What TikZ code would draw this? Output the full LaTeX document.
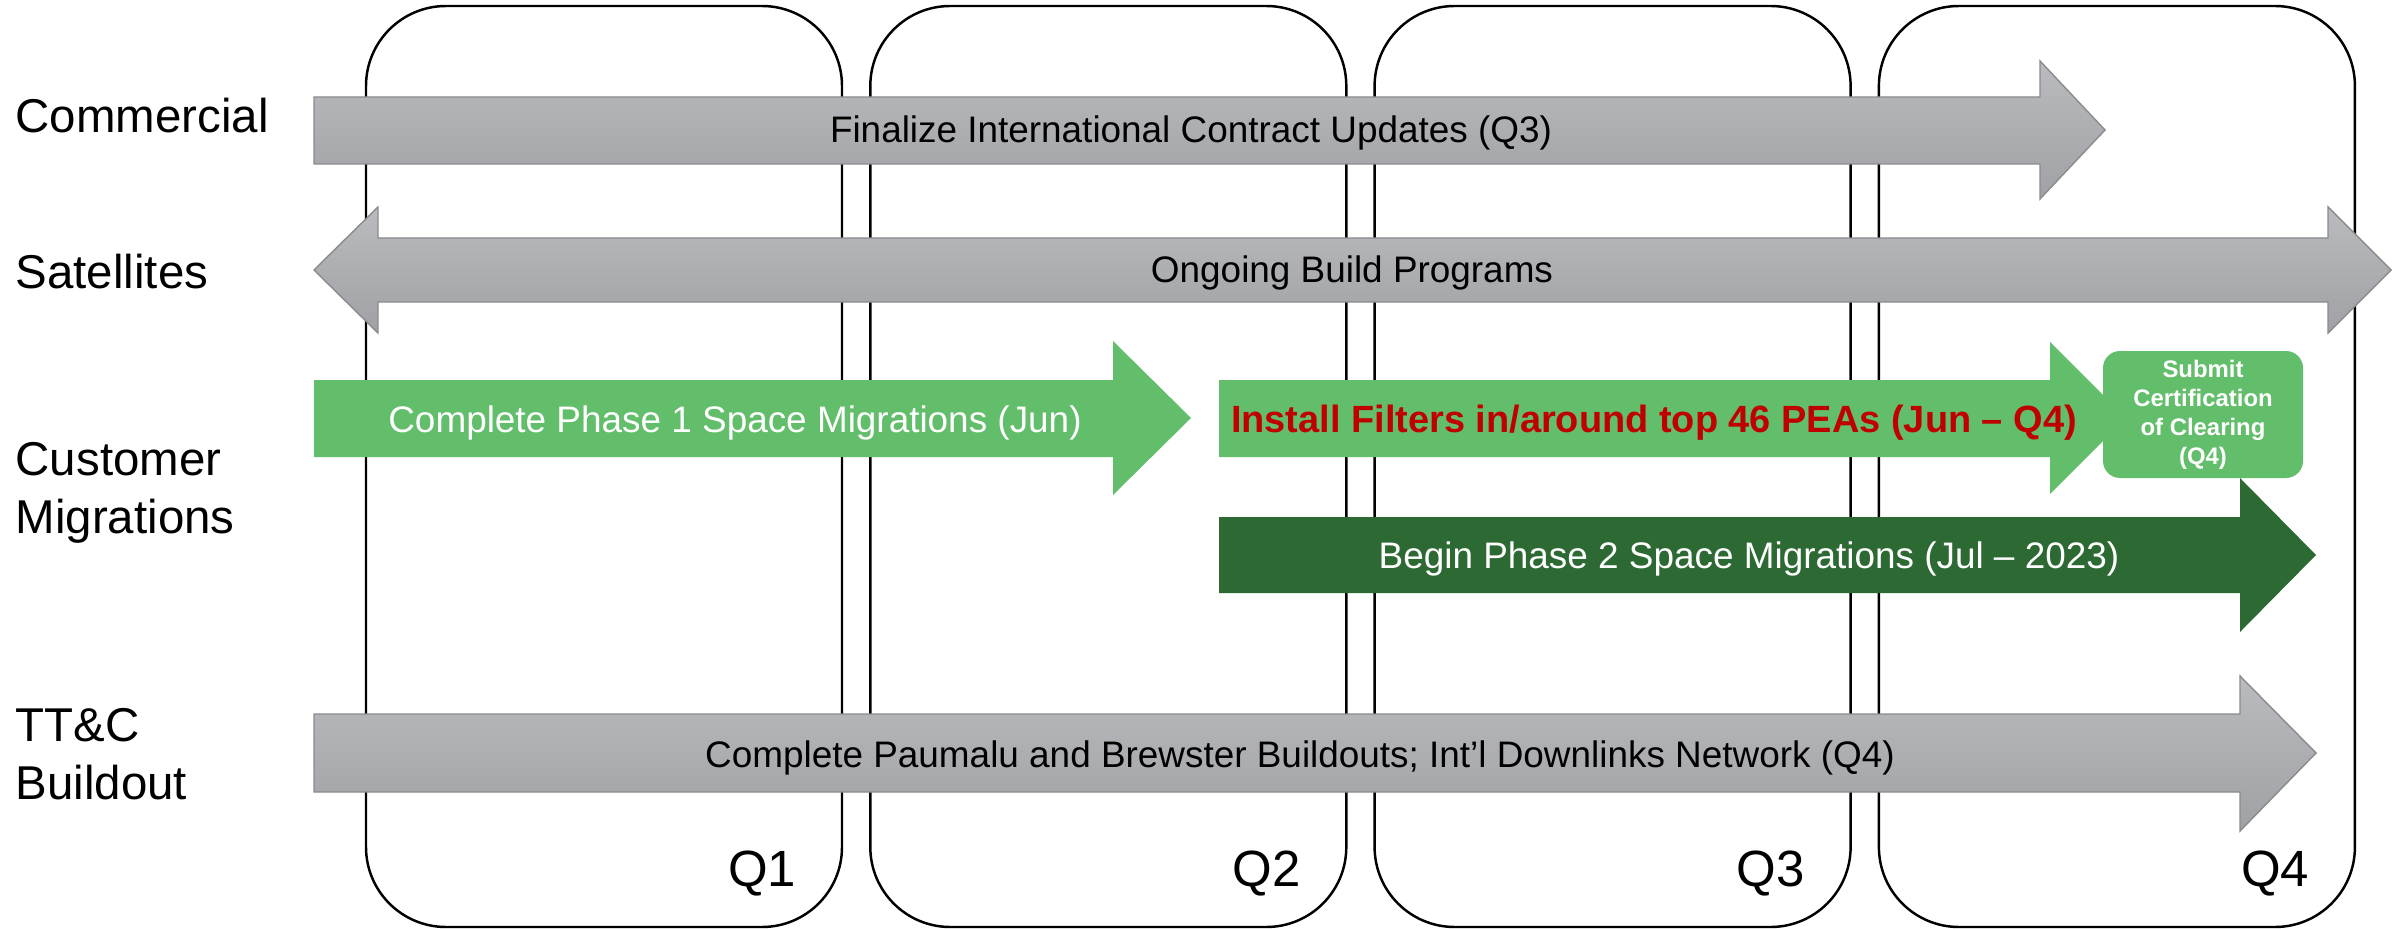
\documentclass[tikz,border=0pt]{standalone}
\usepackage{fontspec}
\setmainfont{Liberation Sans}
\usetikzlibrary{positioning}
\definecolor{GreyTop}{RGB}{186,187,190}
\definecolor{GreyBot}{RGB}{160,161,164}
\definecolor{GreyLine}{RGB}{138,139,141}
\definecolor{LightGreen}{RGB}{99,190,107}
\definecolor{DarkGreen}{RGB}{44,105,51}
\definecolor{FilterRed}{RGB}{192,0,0}

\begin{document}
\begin{tikzpicture}[
        x=0.1mm, y=-0.1mm,
        every node/.style={inner sep=0pt, font=\fontsize{10.5}{12.6}\selectfont},
        quarter/.style={draw=black, line width=0.7pt, rounded corners=8mm},
        greyarrow/.style={top color=GreyTop, bottom color=GreyBot, draw=GreyLine, line width=0.4pt},
        greenarrow/.style={fill=LightGreen},
        darkarrow/.style={fill=DarkGreen},
        rowlabel/.style={anchor=base west, align=left, font=\fontsize{13.5}{16.3}\selectfont},
        bartext/.style={anchor=base}
    ]
        \useasboundingbox (0,0) rectangle (2405,929);

        % Quarters
        \foreach \q [evaluate=\q as \xl using 366+504.3*(\q-1)] in {1,...,4} {
            \draw[quarter] (\xl,6) rectangle ++(476,921);
            \node[anchor=base east, font=\fontsize{14.5}{17}\selectfont] (q\q) at ({\xl+476-45},886) {Q\q};
        }

        % Row labels
        \node[rowlabel] (commercial) at (15,133) {Commercial};
        \node[rowlabel] (satellites) at (15,288) {Satellites};
        \node[rowlabel] (migrations) at (15,533) {Customer\\Migrations};
        \node[rowlabel] (ttc) at (15,799) {TT\&C\\Buildout};

        % Commercial
        \draw[greyarrow] (314,97) -- (2040,97) -- (2040,61) -- (2105,130) -- (2040,199) -- (2040,164) -- (314,164) -- cycle;
        \node[bartext] (contract) at (1191,143) {Finalize International Contract Updates (Q3)};

        % Satellites
        \draw[greyarrow] (314,270) -- (378,207) -- (378,238) -- (2328,238) -- (2328,207) -- (2391,270)
            -- (2328,333) -- (2328,302) -- (378,302) -- (378,333) -- cycle;
        \node[bartext] (build) at (1352,283) {Ongoing Build Programs};

        % Customer migrations
        \fill[greenarrow] (314,380) -- (1113,380) -- (1113,341) -- (1191,418) -- (1113,495) -- (1113,457) -- (314,457) -- cycle;
        \node[bartext, text=white] (phase1) at (735,432) {Complete Phase 1 Space Migrations (Jun)};

        \fill[greenarrow] (1219,380) -- (2050,380) -- (2050,342) -- (2126,418) -- (2050,494) -- (2050,457) -- (1219,457) -- cycle;
        \node[bartext, text=FilterRed, font=\fontsize{10.8}{13}\selectfont\bfseries] (filters) at (1654,432) {Install Filters in/around top 46 PEAs (Jun – Q4)};

        \fill[darkarrow] (1219,517) -- (2240,517) -- (2240,478) -- (2316,555) -- (2240,632) -- (2240,593) -- (1219,593) -- cycle;
        \node[bartext, text=white] (phase2) at (1749,568) {Begin Phase 2 Space Migrations (Jul – 2023)};

        \fill[greenarrow, rounded corners=1.7mm] (2103,351) rectangle (2303,478);
        \node[text=white, align=center, font=\fontsize{6.8}{8.3}\selectfont\bfseries] (clearing) at (2203,415) {Submit\\Certification\\of Clearing\\(Q4)};

        % TT&C buildout
        \draw[greyarrow] (314,714) -- (2240,714) -- (2240,676) -- (2316,753) -- (2240,831) -- (2240,792) -- (314,792) -- cycle;
        \node[bartext] (downlinks) at (1300,767) {Complete Paumalu and Brewster Buildouts; Int’l Downlinks Network (Q4)};
    \end{tikzpicture}
\end{document}
